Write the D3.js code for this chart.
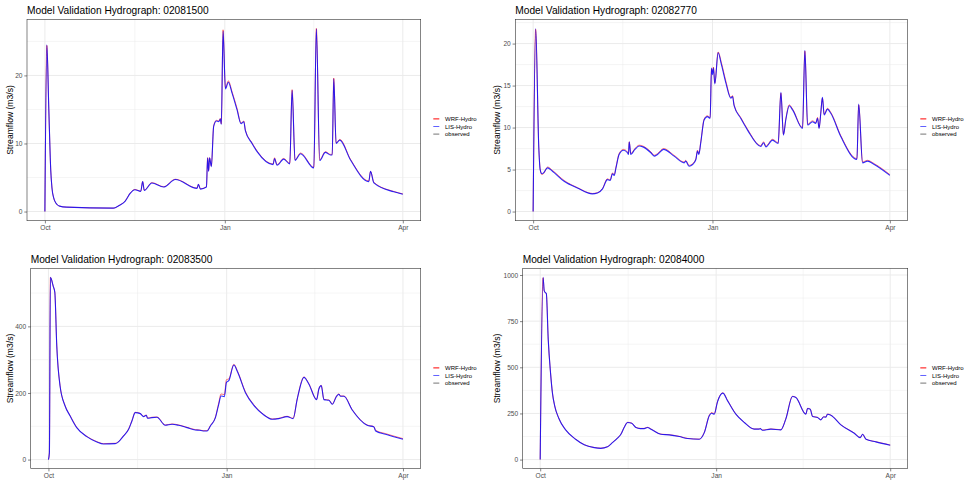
<!DOCTYPE html>
<html><head><meta charset="utf-8">
<script src="https://cdn.jsdelivr.net/npm/d3@7"></script>
<style>
body{margin:0;background:#fff}
svg{display:block;font-family:"Liberation Sans",Arial,Helvetica,sans-serif}
</style>
</head><body>
<svg id="chart" width="974" height="493"></svg>
<script>
// ---------------- DATA ----------------
const gauges = ["02081500", "02082770", "02083500", "02084000"];
const seriesNames = ["WRF-Hydro", "LIS-Hydro", "observed"];
const monthTicks = ["2019-10-01", "2020-01-01", "2020-04-01"];
const monthLabels = ["Oct", "Jan", "Apr"];
const startDay = "2019-10-01";
const endDay = "2020-04-01";

const yTicks1 = [0, 10, 20];
const yTicks2 = [0, 5, 10, 15, 20];
const yTicks3 = [0, 200, 400];
const yTicks4 = [0, 250, 500, 750, 1000];

// days since 1 Oct
const days1 = [0,1.0,2.0,3.0,3.6,4.5,5.5,7.5,11,35,38,41,43.7,46,49,50,50.8,54.7,60.7,66.7,77.8,78.5,79.5,82.6,83.2,83.7,84.2,85.1,86.3,87.7,88.9,89.7,90.2,91.1,92.3,93.8,95.7,98.2,100.3,101.7,102.5,105.9,108.5,116.7,117.4,118.7,122.1,125.2,126.4,127.9,130.7,137.5,138.8,140.5,143.4,146,146.9,147.7,148.9,150.8,156.2,165.6,166.5,168.2,178.4,183];
const lis1 = [0,24.5,15,6,3.5,2.0,1.3,0.8,0.65,0.5,0.9,1.5,2.7,3.2,2.95,4.4,3.1,4.2,3.6,4.7,3.4,4.0,3.3,3.6,7.9,5.9,7.9,6.6,12.5,13.3,13.2,13.6,12.8,26.5,18.0,19.0,17.4,15.0,12.9,13.2,11.9,10.0,8.8,6.9,7.8,6.8,7.7,7.0,17.8,7.5,8.5,6.4,26.8,7.5,8.7,8.3,8.3,19.5,10.0,10.5,7.6,4.4,5.9,4.2,2.9,2.55];
const wrf1 = [0,24.4,15.1,6.1,3.6,2.0,1.3,0.8,0.65,0.5,0.9,1.55,2.75,3.25,3.0,4.4,3.15,4.25,3.65,4.75,3.45,4.0,3.35,3.65,7.9,6.0,7.9,6.7,12.6,13.4,13.3,13.7,12.9,26.7,18.2,19.2,17.6,15.2,13.0,13.3,12.0,10.1,8.9,7.0,7.9,6.9,7.8,7.1,17.9,7.6,8.6,6.5,26.9,7.6,8.8,8.4,8.4,19.6,10.1,10.6,7.7,4.5,5.9,4.3,2.95,2.6];
const obs1 = [];

const days2 = [0,1.3,2.9,3.6,4.5,5.3,7.4,9.9,15.9,22.7,30.4,33,35.6,38.1,39.5,40.7,41.6,42.5,44.1,46.3,48.4,48.9,49.3,50.1,52.2,54.4,56.3,60.4,62.1,63.8,66.9,72.3,77.5,78.3,80,81.8,83.5,84.3,85,86,87.7,89.4,90.8,91.5,92,92.5,93.2,94.9,96.6,98.9,101.4,102.3,103.1,106.5,110,116.8,118.2,119.4,122.8,125.7,127.1,128.4,129.6,131.4,133.1,138.2,139.4,140.8,143.3,145,145.9,146.7,147.6,148.4,149.3,151,152.7,157.9,166.1,167,169,171.5,175,183];
const lis2 = [0,21.8,7.6,5.0,4.5,4.6,5.2,4.8,3.6,2.8,2.1,2.2,2.7,3.8,3.7,4.5,4.3,5.2,6.8,7.3,7.0,6.8,8.3,6.8,7.4,7.8,7.7,7.0,6.6,6.8,7.4,6.6,5.8,6.0,5.4,5.6,6.2,7.2,6.8,8.2,10.9,11.3,11.1,17.1,16.3,17.1,15.2,18.9,17.5,15.3,13.5,13.7,12.6,11.1,9.7,7.75,8.2,7.7,8.5,8.1,14.2,9.1,10.9,12.6,12.1,9.9,19.2,10.3,10.7,10.5,11.1,9.9,11.8,13.6,11.5,12.2,11.7,8.9,6.2,12.8,5.8,6.0,5.6,4.3];
const wrf2 = [0,21.7,7.7,5.1,4.4,4.5,5.3,4.9,3.7,2.85,2.15,2.25,2.75,3.9,3.75,4.6,4.4,5.3,6.9,7.4,7.1,6.9,8.3,6.9,7.5,7.9,7.8,7.1,6.7,6.9,7.5,6.7,5.9,6.1,5.5,5.7,6.3,7.3,6.9,8.3,11.0,11.4,11.2,17.0,16.6,17.2,15.3,19.0,17.7,15.5,13.6,13.8,12.7,11.2,9.8,7.85,8.3,7.8,8.6,8.2,14.1,9.2,11.0,12.7,12.2,10.0,19.1,10.4,10.8,10.6,11.2,10.0,11.9,13.5,11.6,12.3,11.8,9.0,6.3,12.7,5.9,6.1,5.7,4.4];
const obs2 = [];

const days3 = [0,0.5,1.0,2.5,3.3,4.3,6.0,8.6,11.2,14.6,19.8,25,28.4,34.5,35.7,38.8,41.4,43.1,44.8,47.4,49.1,50.5,51.2,53.4,56,60.3,63.8,67.2,71.5,75.8,78,79.8,81.9,83.6,86.2,87.9,89.1,90.8,91.9,93.1,95.7,97.7,101.7,106,111.2,115.5,118.9,123.2,126.3,128.4,131.9,134.4,138.4,139.6,140.8,142.2,144.8,146.5,148.7,149.9,150.8,152.5,156.8,164.5,168,168.9,174,183];
const lis3 = [0,20,547,520,502,342,221,161,131,96,69,53,47,48,51,71,91,116,141,138,129,133,124,126,127,103,106,103,96,89,88,86,86,101,126,166,191,189,232,237,284,262,201,163,134,121,123,129,123,181,247,227,180,212,222,180,178,166,190,196,190,190,149,103,98,86,76,61];
const wrf3 = [0,20,547,520,502,344,223,162,132,97,70,54,48,49,52,72,92,117,142,139,130,134,125,127,128,104,107,104,97,90,89,87,87,102,128,170,197,195,240,242,286,264,203,165,135,122,124,130,124,182,248,228,181,213,223,181,179,167,191,197,191,191,150,104,99,88,78,63];
const obs3 = [];

const days4 = [0,1.5,2.1,2.6,3.2,4.2,5.4,6.4,7.6,9.7,13.2,18.5,23,28.2,31.7,35.2,37.8,40.4,42.2,43.9,45.7,47.8,50,52.3,54.4,56.1,57.9,63.1,67.4,72.7,77,83.1,85.8,88.4,89.6,91,92.7,95.5,98,102.3,106.7,111.9,114.5,115,116.2,120.6,125.8,128.4,131.9,133.7,138.9,139.8,141.2,142.4,145,146.7,148.1,149.4,150.2,152,157.2,164.2,167.3,168.6,170.3,175.5,183];
const lis4 = [0,987,915,906,900,650,470,360,290,224,162,110,80,65,61,69,92,116,137,174,201,197,174,168,168,174,165,137,134,125,114,110,146,237,251,246,313,360,318,246,201,165,165,168,159,165,161,219,342,336,246,277,273,233,228,215,231,230,246,240,188,143,119,137,110,96,78];
const wrf4 = [0,985,913,905,899,652,472,362,291,225,163,111,81,66,62,70,93,117,138,175,202,198,175,169,169,175,166,138,135,126,115,111,148,240,255,249,315,362,320,247,202,166,166,169,160,166,162,220,343,337,247,278,274,234,229,216,232,231,247,241,189,144,120,137,111,97,79];
const obs4 = [];

// ---------------- LAYOUT ----------------
const panels = [
  {gauge: gauges[0], days: days1, wrf: wrf1, lis: lis1, obs: obs1, yTicks: yTicks1, ox: 0,   L: 27,    T: 19.3,  R: 420.7, B: 220.7},
  {gauge: gauges[1], days: days2, wrf: wrf2, lis: lis2, obs: obs2, yTicks: yTicks2, ox: 487, L: 515.3, T: 19.3,  R: 907.7, B: 220.7},
  {gauge: gauges[2], days: days3, wrf: wrf3, lis: lis3, obs: obs3, yTicks: yTicks3, ox: 0,   L: 30.7,  T: 268.3, R: 420.7, B: 468.7},
  {gauge: gauges[3], days: days4, wrf: wrf4, lis: lis4, obs: obs4, yTicks: yTicks4, ox: 487, L: 522.7, T: 268.3, R: 907.7, B: 468.7}
];
const colors = {"WRF-Hydro": "#ff0000", "LIS-Hydro": "#0000ff", "observed": "#000000"};
const opac = {"WRF-Hydro": 1, "LIS-Hydro": 0.62, "observed": 0.55};

const svg = d3.select("#chart");
const t0 = new Date(startDay + "T00:00:00Z"), t1 = new Date(endDay + "T00:00:00Z");
const span = t1 - t0;
const dayDate = d => new Date(t0.getTime() + d * 86400000);

panels.forEach(p => {
  const g = svg.append("g");
  const x = d3.scaleUtc()
    .domain([new Date(t0.getTime() - span * 0.05), new Date(t1.getTime() + span * 0.05)])
    .range([p.L, p.R]);
  const allVals = p.wrf.concat(p.lis, p.obs);
  const ymin = d3.min(allVals), ymax = d3.max(allVals), yr = ymax - ymin;
  const y = d3.scaleLinear().domain([ymin - yr * 0.05, ymax + yr * 0.05]).range([p.B, p.T]);

  // grid
  const step = p.yTicks[1] - p.yTicks[0];
  const minorY = [];
  for (let v = p.yTicks[0] - step / 2; v <= y.domain()[1]; v += step) if (v >= y.domain()[0]) minorY.push(v);
  const tickDates = monthTicks.map(s => new Date(s + "T00:00:00Z"));
  const minorX = [new Date((tickDates[0].getTime() + tickDates[1].getTime()) / 2),
                  new Date((tickDates[1].getTime() + tickDates[2].getTime()) / 2)];
  g.selectAll(".gmy").data(minorY).join("line")
    .attr("x1", p.L).attr("x2", p.R).attr("y1", d => y(d)).attr("y2", d => y(d))
    .attr("stroke", "#ebebeb").attr("stroke-width", 0.5);
  g.selectAll(".gmx").data(minorX).join("line")
    .attr("y1", p.T).attr("y2", p.B).attr("x1", d => x(d)).attr("x2", d => x(d))
    .attr("stroke", "#ebebeb").attr("stroke-width", 0.5);
  g.selectAll(".gy").data(p.yTicks).join("line")
    .attr("x1", p.L).attr("x2", p.R).attr("y1", d => y(d)).attr("y2", d => y(d))
    .attr("stroke", "#ebebeb").attr("stroke-width", 1);
  g.selectAll(".gx").data(tickDates).join("line")
    .attr("y1", p.T).attr("y2", p.B).attr("x1", d => x(d)).attr("x2", d => x(d))
    .attr("stroke", "#ebebeb").attr("stroke-width", 1);

  // lines: observed, then WRF, then LIS drawn over them (semi-transparent)
  const series = [
    {name: "observed", vals: p.obs},
    {name: "WRF-Hydro", vals: p.wrf},
    {name: "LIS-Hydro", vals: p.lis}
  ];
  const line = d3.line().x(d => x(dayDate(d[0]))).y(d => y(d[1])).curve(d3.curveMonotoneX);
  series.forEach(s => {
    const pts = s.vals.map((v, i) => [p.days[i], v]);
    if (!pts.length) return;
    g.append("path").datum(pts).attr("d", line)
      .attr("fill", "none").attr("stroke", colors[s.name])
      .attr("stroke-opacity", s.name === "LIS-Hydro" ? 0.82 : opac[s.name])
      .attr("stroke-width", s.name === "WRF-Hydro" ? 0.55 : 1.1)
      .attr("stroke-linejoin", "round");
  });

  // border
  g.append("rect").attr("x", p.L).attr("y", p.T).attr("width", p.R - p.L).attr("height", p.B - p.T)
    .attr("fill", "none").attr("stroke", "#333").attr("stroke-width", 0.6);

  // axes
  const xAxis = d3.axisBottom(x).tickValues(tickDates)
    .tickFormat((d, i) => monthLabels[i]).tickSize(2.7).tickPadding(1.8);
  const gx = g.append("g").attr("transform", `translate(0,${p.B})`).call(xAxis);
  const yAxis = d3.axisLeft(y).tickValues(p.yTicks).tickFormat(d3.format("d")).tickSize(2.7).tickPadding(1.8);
  const gy = g.append("g").attr("transform", `translate(${p.L},0)`).call(yAxis);
  [gx, gy].forEach(a => {
    a.select(".domain").remove();
    a.selectAll(".tick line").attr("stroke", "#333").attr("stroke-width", 0.6);
    a.selectAll(".tick text").attr("fill", "#4d4d4d").style("font-size", "6.6px")
      .style("font-family", '"Liberation Sans",Arial,sans-serif');
  });

  // title
  g.append("text").attr("x", p.L).attr("y", p.T - 5.4)
    .style("font-size", "10.2px").attr("fill", "#000")
    .text("Model Validation Hydrograph: " + p.gauge);

  // y title
  g.append("text").attr("transform", `translate(${p.ox + 13},${(p.T + p.B) / 2}) rotate(-90)`)
    .attr("text-anchor", "middle").style("font-size", "8.6px").attr("fill", "#000")
    .text("Streamflow (m3/s)");

  // legend
  const lg = g.append("g").attr("transform", `translate(${p.R + 12.6},${p.T + 99.6})`);
  seriesNames.forEach((n, i) => {
    const yy = i * 7.6;
    lg.append("line").attr("x1", 0).attr("x2", 6).attr("y1", yy).attr("y2", yy)
      .attr("stroke", colors[n]).attr("stroke-opacity", opac[n]).attr("stroke-width", 1);
    lg.append("text").attr("x", 11.7).attr("y", yy).attr("dy", "0.35em")
      .style("font-size", "6px").attr("fill", "#000").text(n);
  });
});
</script>
</body></html>
